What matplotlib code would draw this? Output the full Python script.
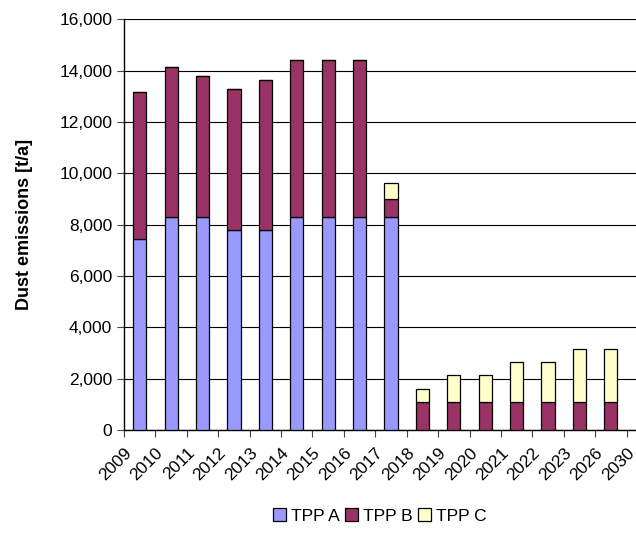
import numpy as np
import matplotlib
matplotlib.use("Agg")
import matplotlib.pyplot as plt
from matplotlib.ticker import FuncFormatter

plt.rcParams["font.family"] = ["Liberation Sans", "DejaVu Sans"]

years = ["2009", "2010", "2011", "2012", "2013", "2014", "2015", "2016", "2017",
         "2018", "2019", "2020", "2021", "2022", "2023", "2026", "2030"]
tpp_a = [7450, 8300, 8300, 7800, 7800, 8300, 8300, 8300, 8300,
         0, 0, 0, 0, 0, 0, 0]
tpp_b = [5700, 5850, 5500, 5500, 5850, 6100, 6100, 6100, 700,
         1100, 1100, 1100, 1100, 1100, 1100, 1100]
tpp_c = [0, 0, 0, 0, 0, 0, 0, 0, 600,
         500, 1050, 1050, 1550, 1550, 2050, 2050]

colors = {"TPP A": "#9999FF", "TPP B": "#993366", "TPP C": "#FFFFCC"}

fig = plt.figure(figsize=(6.36, 5.34), dpi=100)
ax = fig.add_axes([0.195, 0.195, 0.805, 0.769])

x = np.arange(len(tpp_a)) + 0.5
a = np.array(tpp_a)
b = np.array(tpp_b)
c = np.array(tpp_c)
w = 0.42
kw = dict(width=w, edgecolor="black", linewidth=0.9, zorder=3)
ax.bar(x, a, color=colors["TPP A"], label="TPP A", **kw)
ax.bar(x, b, bottom=a, color=colors["TPP B"], label="TPP B", **kw)
ax.bar(x, c, bottom=a + b, color=colors["TPP C"], label="TPP C", **kw)

ax.set_ylim(0, 16000)
ax.set_yticks(np.arange(0, 16001, 2000))
ax.yaxis.set_major_formatter(FuncFormatter(lambda v, p: f"{int(v):,}"))
ax.grid(axis="y", color="black", linewidth=0.8, zorder=0)

# categories sit between the year ticks; right edge runs a little past the last tick
ax.set_xlim(0, 16.3)
ax.set_xticks(np.arange(len(years)))
ax.set_xticklabels(years, rotation=45, ha="right", rotation_mode="anchor")

for s in ("top", "right"):
    ax.spines[s].set_visible(False)
ax.spines["left"].set_linewidth(1.0)
ax.spines["bottom"].set_linewidth(1.0)
ax.tick_params(axis="both", labelsize=12.5, length=5, width=0.8, color="#444444")
ax.tick_params(axis="x", pad=6)

ax.set_ylabel("Dust emissions [t/a]", fontsize=13, fontweight="bold", labelpad=19)

ax.legend(loc="center", bbox_to_anchor=(0.5, -0.21), ncol=3, frameon=False,
          fontsize=12.5, handlelength=0.75, handleheight=0.75, handletextpad=0.3,
          columnspacing=0.3, borderaxespad=0)

fig.savefig("out.png", dpi=100)
